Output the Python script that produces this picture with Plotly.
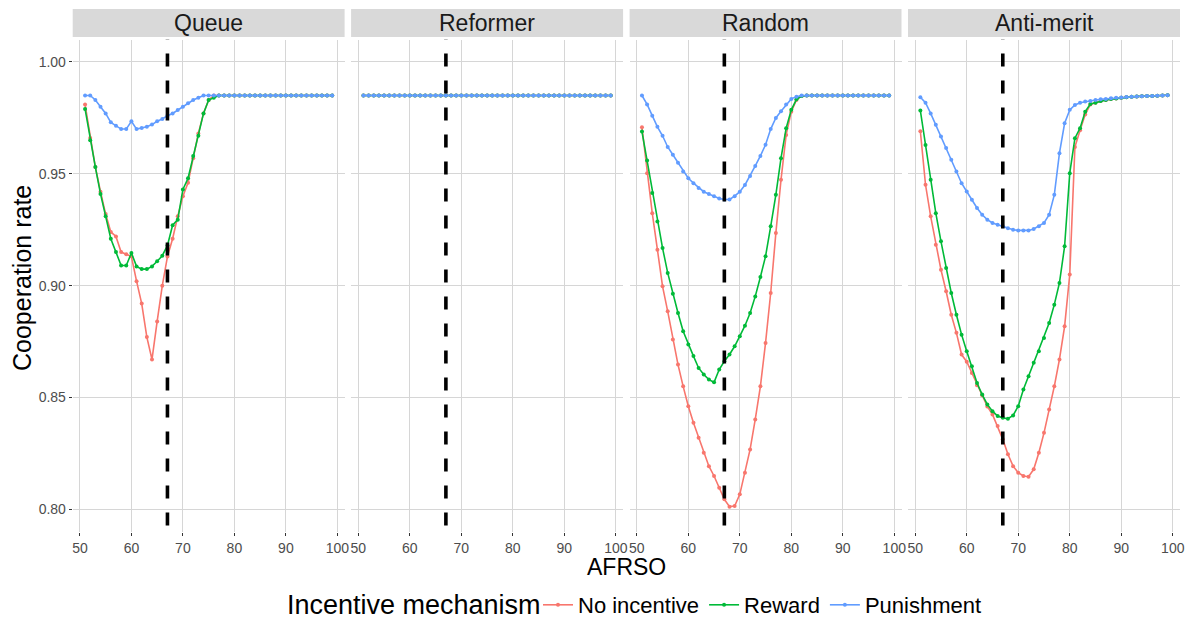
import plotly.graph_objects as go

# ---------------- data ----------------
AFRSO = list(range(51, 100))
PANELS = ["Queue", "Reformer", "Random", "Anti-merit"]
MECHANISMS = ["No incentive", "Reward", "Punishment"]
LEGEND_TITLE = "Incentive mechanism"
THRESHOLD = 67
Y_TICKS = [0.80, 0.85, 0.90, 0.95, 1.00]
X_TICKS = [50, 60, 70, 80, 90, 100]

queue_no_incentive = [0.981, 0.966, 0.953, 0.942, 0.932, 0.924, 0.922, 0.915, 0.914, 0.913,
                      0.902, 0.892, 0.877, 0.867, 0.884, 0.900, 0.913, 0.921, 0.931, 0.940,
                      0.946, 0.957, 0.968, 0.977, 0.983, 0.985, 0.985, 0.985, 0.985, 0.985,
                      0.985, 0.985, 0.985, 0.985, 0.985, 0.985, 0.985, 0.985, 0.985, 0.985,
                      0.985, 0.985, 0.985, 0.985, 0.985, 0.985, 0.985, 0.985, 0.985]
queue_reward = [0.979, 0.965, 0.953, 0.941, 0.931, 0.921, 0.915, 0.909, 0.909, 0.9146,
                0.9086, 0.9074, 0.9074, 0.9086, 0.9109, 0.9134, 0.918, 0.927, 0.9295, 0.943,
                0.948, 0.958, 0.967, 0.977, 0.983, 0.984, 0.985, 0.985, 0.985, 0.985,
                0.985, 0.985, 0.985, 0.985, 0.985, 0.985, 0.985, 0.985, 0.985, 0.985,
                0.985, 0.985, 0.985, 0.985, 0.985, 0.985, 0.985, 0.985, 0.985]
queue_punishment = [0.985, 0.985, 0.983, 0.980, 0.977, 0.973, 0.9715, 0.970, 0.970, 0.9735,
                    0.970, 0.9705, 0.971, 0.972, 0.9735, 0.9745, 0.976, 0.977, 0.9785, 0.980,
                    0.9815, 0.983, 0.984, 0.985, 0.985, 0.985, 0.985, 0.985, 0.985, 0.985,
                    0.985, 0.985, 0.985, 0.985, 0.985, 0.985, 0.985, 0.985, 0.985, 0.985,
                    0.985, 0.985, 0.985, 0.985, 0.985, 0.985, 0.985, 0.985, 0.985]

reformer_no_incentive = [0.985, 0.985, 0.985, 0.985, 0.985, 0.985, 0.985, 0.985, 0.985, 0.985,
                         0.985, 0.985, 0.985, 0.985, 0.985, 0.985, 0.985, 0.985, 0.985, 0.985,
                         0.985, 0.985, 0.985, 0.985, 0.985, 0.985, 0.985, 0.985, 0.985, 0.985,
                         0.985, 0.985, 0.985, 0.985, 0.985, 0.985, 0.985, 0.985, 0.985, 0.985,
                         0.985, 0.985, 0.985, 0.985, 0.985, 0.985, 0.985, 0.985, 0.985]
reformer_reward = [0.985, 0.985, 0.985, 0.985, 0.985, 0.985, 0.985, 0.985, 0.985, 0.985,
                   0.985, 0.985, 0.985, 0.985, 0.985, 0.985, 0.985, 0.985, 0.985, 0.985,
                   0.985, 0.985, 0.985, 0.985, 0.985, 0.985, 0.985, 0.985, 0.985, 0.985,
                   0.985, 0.985, 0.985, 0.985, 0.985, 0.985, 0.985, 0.985, 0.985, 0.985,
                   0.985, 0.985, 0.985, 0.985, 0.985, 0.985, 0.985, 0.985, 0.985]
reformer_punishment = [0.985, 0.985, 0.985, 0.985, 0.985, 0.985, 0.985, 0.985, 0.985, 0.985,
                       0.985, 0.985, 0.985, 0.985, 0.985, 0.985, 0.985, 0.985, 0.985, 0.985,
                       0.985, 0.985, 0.985, 0.985, 0.985, 0.985, 0.985, 0.985, 0.985, 0.985,
                       0.985, 0.985, 0.985, 0.985, 0.985, 0.985, 0.985, 0.985, 0.985, 0.985,
                       0.985, 0.985, 0.985, 0.985, 0.985, 0.985, 0.985, 0.985, 0.985]

random_no_incentive = [0.9708, 0.9503, 0.9324, 0.9161, 0.8997, 0.8885, 0.8759, 0.8647, 0.855, 0.8461,
                       0.8387, 0.832, 0.8253, 0.8193, 0.8149, 0.8097, 0.8045, 0.8012, 0.8015, 0.8067,
                       0.8164, 0.8268, 0.8402, 0.855, 0.8744, 0.8967, 0.9235, 0.9473, 0.9674, 0.9778,
                       0.983, 0.9848, 0.985, 0.985, 0.985, 0.985, 0.985, 0.985, 0.985, 0.985,
                       0.985, 0.985, 0.985, 0.985, 0.985, 0.985, 0.985, 0.985, 0.985]
random_reward = [0.9689, 0.956, 0.9414, 0.9287, 0.9168, 0.9057, 0.8964, 0.8878, 0.8796, 0.8737,
                 0.8685, 0.8632, 0.8603, 0.858, 0.8568, 0.8625, 0.8662, 0.8692, 0.8729, 0.8774,
                 0.8821, 0.8878, 0.8952, 0.9039, 0.9131, 0.9265, 0.9406, 0.957, 0.9704, 0.9786,
                 0.9833, 0.9848, 0.985, 0.985, 0.985, 0.985, 0.985, 0.985, 0.985, 0.985,
                 0.985, 0.985, 0.985, 0.985, 0.985, 0.985, 0.985, 0.985, 0.985]
random_punishment = [0.985, 0.981, 0.976, 0.971, 0.967, 0.962, 0.9585, 0.955, 0.951, 0.948,
                     0.9458, 0.9437, 0.942, 0.941, 0.940, 0.939, 0.9385, 0.9385, 0.940, 0.942,
                     0.945, 0.949, 0.9535, 0.958, 0.963, 0.970, 0.975, 0.978, 0.981, 0.9835,
                     0.9845, 0.985, 0.985, 0.985, 0.985, 0.985, 0.985, 0.985, 0.985, 0.985,
                     0.985, 0.985, 0.985, 0.985, 0.985, 0.985, 0.985, 0.985, 0.985]

antimerit_no_incentive = [0.969, 0.9451, 0.931, 0.9183, 0.9071, 0.8975, 0.887, 0.8789, 0.8692, 0.866,
                          0.861, 0.8555, 0.851, 0.846, 0.8424, 0.8372, 0.8313, 0.8246, 0.8193, 0.8164,
                          0.8149, 0.8146, 0.8179, 0.8253, 0.8342, 0.8446, 0.855, 0.867, 0.8818, 0.905,
                          0.962, 0.9695, 0.9765, 0.981, 0.9818, 0.9825, 0.983, 0.9834, 0.9837, 0.984,
                          0.9842, 0.9844, 0.9846, 0.9847, 0.9848, 0.9848, 0.9849, 0.985, 0.9851]
antimerit_reward = [0.9783, 0.9629, 0.9473, 0.9324, 0.9198, 0.9079, 0.8967, 0.887, 0.8781, 0.8707,
                    0.864, 0.8565, 0.8513, 0.8469, 0.8439, 0.8417, 0.8409, 0.8405, 0.842, 0.8461,
                    0.8536, 0.8595, 0.8655, 0.8707, 0.8766, 0.8833, 0.8915, 0.9012, 0.9176, 0.9503,
                    0.9659, 0.9704, 0.9778, 0.9812, 0.9818, 0.9825, 0.983, 0.9834, 0.9837, 0.984,
                    0.9842, 0.9844, 0.9846, 0.9847, 0.9848, 0.9848, 0.9849, 0.985, 0.9851]
antimerit_punishment = [0.9842, 0.9818, 0.977, 0.9719, 0.9667, 0.9615, 0.9563, 0.951, 0.9458, 0.9421,
                        0.9384, 0.9347, 0.9317, 0.9295, 0.928, 0.9272, 0.9265, 0.9257, 0.925, 0.9247,
                        0.9247, 0.9247, 0.9253, 0.9265, 0.928, 0.9317, 0.9406, 0.9592, 0.9726, 0.9786,
                        0.9808, 0.9818, 0.9823, 0.9826, 0.983, 0.9833, 0.9835, 0.9838, 0.984, 0.9841,
                        0.9843, 0.9844, 0.9846, 0.9847, 0.9848, 0.9848, 0.9849, 0.985, 0.9851]

SERIES = {
    "Queue": [queue_no_incentive, queue_reward, queue_punishment],
    "Reformer": [reformer_no_incentive, reformer_reward, reformer_punishment],
    "Random": [random_no_incentive, random_reward, random_punishment],
    "Anti-merit": [antimerit_no_incentive, antimerit_reward, antimerit_punishment],
}

# ---------------- styling / layout ----------------
COLORS = ["#F8766D", "#00BA38", "#619CFF"]
FONT = "Liberation Sans, Arial, Helvetica, sans-serif"
W, H = 1195, 621
PANEL_PX = [(72.7, 344.6), (351.1, 623.1), (629.6, 901.5), (908.0, 1180.0)]
PLOT_TOP, PLOT_BOTTOM = 39.6, 531.7
STRIP_TOP, STRIP_BOTTOM = 9.0, 37.0
LEGEND_Y = 605
GRID = "#d6d6d6"

xmin, xmax = min(AFRSO), max(AFRSO)
xpad = 0.05 * (xmax - xmin)
XRANGE = [xmin - xpad, xmax + xpad]
YRANGE = [0.79, 1.01]


def px_x(v):
    return v / W


def px_y(v):
    return 1 - v / H


fig = go.Figure()
shapes = []
annotations = []

for i, panel in enumerate(PANELS):
    ax = "" if i == 0 else str(i + 1)
    for j, (name, vals) in enumerate(zip(MECHANISMS, SERIES[panel])):
        fig.add_trace(go.Scatter(
            x=AFRSO, y=vals, mode="lines+markers", name=name,
            legendgroup=name, showlegend=(i == 0),
            line=dict(color=COLORS[j], width=1.6),
            marker=dict(color=COLORS[j], size=4),
            xaxis="x" + ax, yaxis="y" + ax,
        ))
    x0, x1 = PANEL_PX[i]
    fig.layout["xaxis" + ax] = dict(
        domain=[px_x(x0), px_x(x1)], range=XRANGE, anchor="y" + ax, automargin=False,
        tickvals=X_TICKS, ticks="outside", ticklen=3, tickcolor="#333333",
        tickfont=dict(family=FONT, size=14, color="#4d4d4d"),
        showgrid=True, gridcolor=GRID, gridwidth=1, zeroline=False, showline=False,
    )
    fig.layout["yaxis" + ax] = dict(
        domain=[px_y(PLOT_BOTTOM), px_y(PLOT_TOP)], range=YRANGE, anchor="x" + ax,
        automargin=False,
        tickvals=Y_TICKS, tickformat=".2f",
        ticks="outside" if i == 0 else "", ticklen=3, tickcolor="#333333",
        showticklabels=(i == 0),
        tickfont=dict(family=FONT, size=14, color="#4d4d4d"),
        showgrid=True, gridcolor=GRID, gridwidth=1, zeroline=False, showline=False,
    )
    # threshold dashed line
    shapes.append(dict(
        type="line", xref="x" + ax, yref="y" + ax,
        x0=THRESHOLD, x1=THRESHOLD, y0=1.0159, y1=0.77,
        line=dict(color="black", width=3.6, dash="13px,14px"), layer="above",
    ))
    # facet strip
    shapes.append(dict(
        type="rect", xref="paper", yref="paper",
        x0=px_x(x0), x1=px_x(x1), y0=px_y(STRIP_BOTTOM), y1=px_y(STRIP_TOP),
        fillcolor="#d9d9d9", line=dict(width=0), layer="below",
    ))
    annotations.append(dict(
        text=panel, xref="paper", yref="paper",
        x=px_x((x0 + x1) / 2), y=px_y((STRIP_TOP + STRIP_BOTTOM) / 2),
        xanchor="center", yanchor="middle", showarrow=False,
        font=dict(family=FONT, size=23, color="#1a1a1a"),
    ))

annotations.append(dict(
    text="AFRSO", xref="paper", yref="paper", x=px_x(626), y=px_y(567),
    xanchor="center", yanchor="middle", showarrow=False,
    font=dict(family=FONT, size=23, color="black"),
))
annotations.append(dict(
    text="Cooperation rate", xref="paper", yref="paper", x=px_x(22), y=px_y(278),
    xanchor="center", yanchor="middle", showarrow=False, textangle=-90,
    font=dict(family=FONT, size=25, color="black"),
))
annotations.append(dict(
    text=LEGEND_TITLE, xref="paper", yref="paper", x=px_x(543), y=px_y(LEGEND_Y),
    xanchor="right", yanchor="middle", showarrow=False,
    font=dict(family=FONT, size=27, color="black"),
))

fig.update_layout(
    width=W, height=H,
    margin=dict(l=0, r=0, t=0, b=0, autoexpand=False),
    paper_bgcolor="white", plot_bgcolor="white",
    shapes=shapes, annotations=annotations,
    showlegend=True,
    legend=dict(
        orientation="h", x=px_x(538), xanchor="left", y=px_y(LEGEND_Y), yanchor="middle",
        font=dict(family=FONT, size=22, color="black"),
        itemwidth=30, tracegroupgap=0, bgcolor="rgba(0,0,0,0)",
    ),
)

fig.write_html("out.html")
